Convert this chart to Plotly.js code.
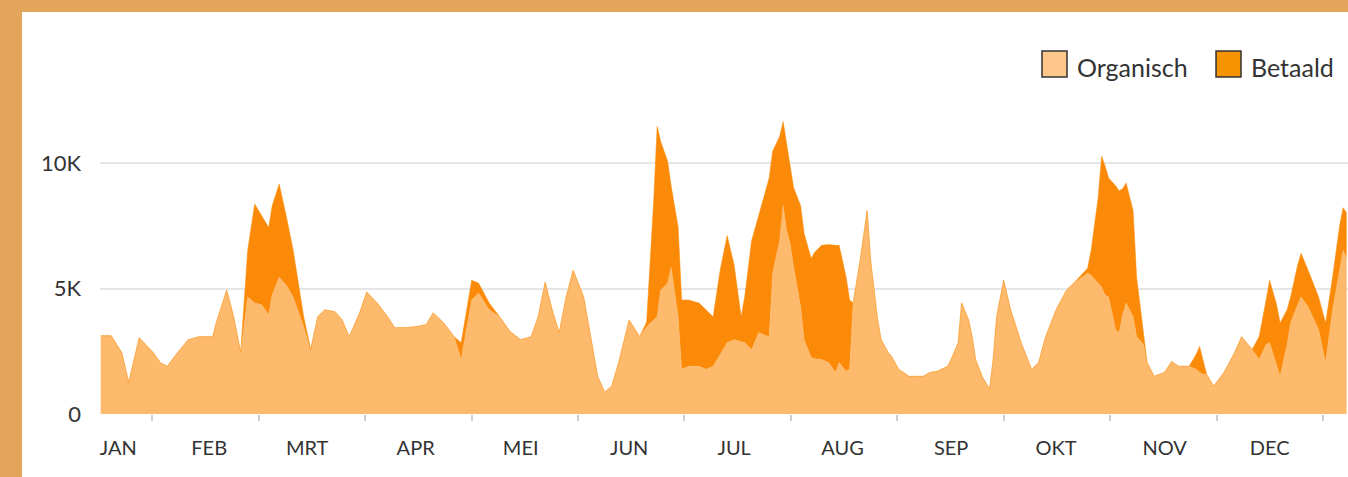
<!DOCTYPE html>
<html>
<head>
<meta charset="utf-8">
<script src="https://cdn.plot.ly/plotly-3.0.1.min.js"></script>
<style>
  html, body { margin: 0; padding: 0; width: 1348px; height: 477px; overflow: hidden; background: #E2A55B; }
  #chart { position: absolute; left: 22px; top: 12px; width: 1326px; height: 465px; background: #ffffff; }
</style>
</head>
<body>
<div id="chart"></div>
<script>
// Day of year (0 = 1 januari)
const dagen = [0,3,6,8,11,15,17,19,22,25,28,32,33,36,38,40,42,44,46,48,49,51,53,55,58,60,62,64,67,69,71,74,76,79,82,84,87,90,93,95,98,101,103,105,106,108,111,114,117,120,123,125,127,129,131,133,135,138,140,142,144,146,148,151,154,156,158,159,160,162,163,165,166,168,171,173,175,177,179,181,183,184,186,188,191,192,194,195,196,197,198,200,201,203,204,206,208,210,211,213,214,215,217,219,220,222,223,225,226,228,231,235,237,239,242,243,245,246,248,249,250,252,254,255,256,258,260,263,266,268,270,273,276,278,282,283,285,286,287,288,290,291,292,293,295,296,298,299,301,304,306,308,311,313,314,315,316,318,321,324,326,329,331,333,334,336,337,339,340,342,343,345,348,350,352,354,355,356];

const organisch = [3120,3120,2450,1260,3040,2450,2050,1900,2450,2960,3080,3080,3630,4940,3870,2450,4660,4420,4350,3950,4740,5450,5140,4660,3480,2490,3870,4150,4070,3750,3080,4030,4860,4420,3870,3440,3440,3480,3560,4030,3630,3080,2170,3750,4540,4820,4150,3870,3280,2960,3080,3870,5250,4150,3240,4660,5730,4660,3080,1500,870,1110,2050,3750,3080,3480,3750,3870,4940,5210,5850,3870,1780,1900,1900,1780,1900,2370,2840,2960,2880,2840,2570,3240,3080,5610,6910,8300,7310,6790,5850,4270,2960,2250,2200,2170,2050,1660,2050,1700,1780,4420,6120,8100,6120,3750,2960,2450,2290,1780,1500,1500,1660,1700,1900,2170,2840,4420,3750,3080,2170,1460,990,2170,3870,5330,4150,2840,1780,2050,3080,4150,4940,5210,5610,5530,5210,5060,4740,4660,3360,3240,3950,4420,3870,3080,2770,2050,1500,1660,2090,1900,1900,1780,1660,1580,1580,1110,1660,2450,3080,2570,2170,2770,2840,1980,1500,2770,3630,4350,4660,4270,3360,2050,4150,5730,6520,6200];

const betaald = [0,0,0,0,0,0,0,0,0,0,0,0,0,0,0,0,1860,3950,3550,3480,3560,3710,2760,1860,390,80,0,0,0,0,0,0,0,0,0,0,0,0,0,0,0,0,670,790,790,390,270,0,0,0,0,0,0,0,0,0,0,0,0,0,0,0,0,0,0,190,4740,7590,5920,4860,3240,3560,2760,2640,2520,2370,1970,3360,4270,2970,990,1820,4340,4660,6320,4860,4150,3350,3430,3210,3160,4030,4230,3950,4240,4550,4700,5060,4670,3750,2760,0,0,0,0,0,0,0,0,0,0,0,0,0,0,0,0,0,0,0,0,0,0,0,0,0,0,0,0,0,0,0,0,0,200,990,3400,5210,5140,4740,5730,5650,5020,4780,4230,2370,310,0,0,0,0,0,0,590,1030,510,0,0,0,0,0,0,910,1770,2490,2370,2130,1380,1030,1580,1740,1460,1300,1580,1300,1770,1700,1820];

const maandLabels = ["JAN","FEB","MRT","APR","MEI","JUN","JUL","AUG","SEP","OKT","NOV","DEC"];
const maandDagen = [5,31,59,90,120,151,181,212,243,273,304,334];
const yTickVals = [0, 5000, 10000];
const yTickText = ["0", "5K", "10K"];
const reeksNamen = ["Organisch", "Betaald"];
const kleurOrganisch = "#FDBA6C";
const kleurBetaald = "#FA8A08";
const legendaOrganisch = "#FFC88A";
const legendaBetaald = "#F59300";

const traces = [
  {
    x: dagen, y: organisch, name: reeksNamen[0], type: "scatter", mode: "lines",
    stackgroup: "een", line: { width: 0.5, color: kleurOrganisch, shape: "linear" },
    fillcolor: kleurOrganisch, hoverinfo: "skip", showlegend: false
  },
  {
    x: dagen, y: betaald, name: reeksNamen[1], type: "scatter", mode: "lines",
    stackgroup: "een", line: { width: 0.5, color: kleurBetaald, shape: "linear" },
    fillcolor: kleurBetaald, hoverinfo: "skip", showlegend: false
  }
];

const L = 78, W = 1326, H = 465, T = 100, B = 63;
const pw = W - L, ph = H - T - B;
function px2x(p) { return (p - L) / pw; }
function py2y(p) { return (H - B - p) / ph; }

const layout = {
  width: W, height: H,
  margin: { l: L, r: 0, t: T, b: B, pad: 0 },
  paper_bgcolor: "#ffffff", plot_bgcolor: "#ffffff",
  font: { family: "Lato, 'Open Sans', sans-serif", color: "#333333", size: 21 },
  showlegend: false,
  xaxis: {
    range: [-0.2, 356.4], type: "linear", fixedrange: true,
    tickmode: "array", tickvals: maandDagen, ticktext: maandLabels,
    ticks: "", showgrid: false, zeroline: false, showline: false,
    ticklabelstandoff: 20,
    tickfont: { family: "Lato, sans-serif", size: 20, color: "#333333" },
    minor: { tickmode: "linear", tick0: 14.7, dtick: 30.42, ticks: "outside", ticklen: 6, tickwidth: 2, tickcolor: "#cfcfcf", showgrid: false }
  },
  yaxis: {
    range: [0, 12032], fixedrange: true,
    tickmode: "array", tickvals: yTickVals, ticktext: yTickText,
    ticks: "", showgrid: true, gridcolor: "#e6e6e6", gridwidth: 2,
    zeroline: false, showline: false, ticklabelstandoff: 18,
    tickfont: { family: "Lato, sans-serif", size: 22, color: "#333333" }
  },
  shapes: [
    { type: "rect", xref: "paper", yref: "paper", x0: px2x(1020), x1: px2x(1045), y0: py2y(65), y1: py2y(39),
      fillcolor: legendaOrganisch, line: { color: "#333333", width: 1.5 } },
    { type: "rect", xref: "paper", yref: "paper", x0: px2x(1194), x1: px2x(1219), y0: py2y(65), y1: py2y(39),
      fillcolor: legendaBetaald, line: { color: "#333333", width: 1.5 } }
  ],
  annotations: [
    { xref: "paper", yref: "paper", x: px2x(1053), y: py2y(55), xanchor: "left", yanchor: "middle",
      text: reeksNamen[0], showarrow: false, font: { family: "Lato, sans-serif", size: 25, color: "#333333" } },
    { xref: "paper", yref: "paper", x: px2x(1227), y: py2y(55), xanchor: "left", yanchor: "middle",
      text: reeksNamen[1], showarrow: false, font: { family: "Lato, sans-serif", size: 25, color: "#333333" } }
  ]
};

Plotly.newPlot("chart", traces, layout, { displayModeBar: false, staticPlot: true });
</script>
</body>
</html>
